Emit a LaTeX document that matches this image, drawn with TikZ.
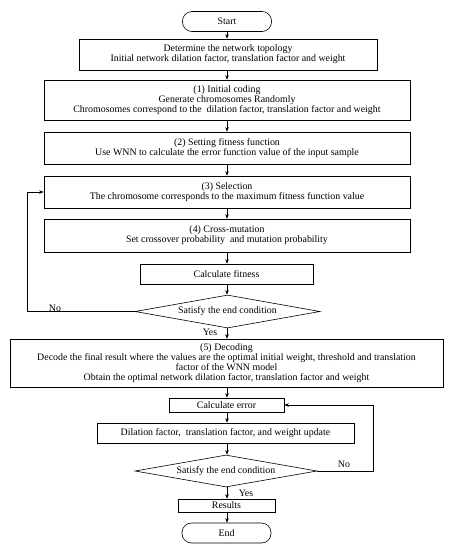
\documentclass[tikz,border=0pt]{standalone}
\usepackage{fontspec}
\setmainfont{Liberation Serif}
\usetikzlibrary{shapes.geometric,arrows.meta}
\begin{document}
\begin{tikzpicture}[x=1pt,y=-1pt,
  every node/.style={font=\fontsize{9.9}{10.2}\selectfont, align=center, inner sep=0pt, line width=0.6pt},
  box/.style={draw, rectangle},
  term/.style={draw, rectangle, rounded corners=9.5pt, minimum width=89pt, minimum height=20pt},
  cond/.style={draw, diamond, shape aspect=5.6},
  arr/.style={-{Stealth[length=4.5pt,width=3.5pt]}, line width=0.6pt},
  lbl/.style={font=\fontsize{9.9}{10.2}\selectfont}]
\useasboundingbox (0,0) rectangle (451,550);
\node[term] (start) at (227,21.5) {Start};
\node[box, minimum width=298pt, minimum height=31pt] (b1) at (228,54.5) {Determine the network topology\\Initial network dilation factor, translation factor and weight};
\node[box, minimum width=366pt, minimum height=40pt] (b2) at (227,100) {(1) Initial coding\\Generate chromosomes Randomly\\Chromosomes correspond to the\ \ dilation factor, translation factor and weight};
\node[box, minimum width=366pt, minimum height=32pt] (b3) at (227,148) {(2) Setting fitness function\\Use WNN to calculate the error function value of the input sample};
\node[box, minimum width=366pt, minimum height=32pt] (b4) at (227,192) {(3) Selection\\The chromosome corresponds to the maximum fitness function value};
\node[box, minimum width=366pt, minimum height=33pt] (b5) at (227,235.5) {(4) Cross-mutation\\Set crossover probability\ \ and mutation probability};
\node[box, minimum width=173pt, minimum height=20pt] (fit) at (226.5,274) {Calculate fitness};
\node[cond, minimum width=185pt, minimum height=33pt] (d1) at (227.5,311.5) {Satisfy the end condition};
\node[box, minimum width=433pt, minimum height=48pt] (dec) at (226.5,363) {(5) Decoding\\Decode the final result where the values are the optimal initial weight, threshold and translation\\factor of the WNN model\\Obtain the optimal network dilation factor, translation factor and weight};
\node[box, minimum width=115pt, minimum height=14pt] (err) at (226.5,405) {Calculate error};
\node[box, minimum width=257pt, minimum height=20pt] (upd) at (225.5,433) {Dilation factor,\ \ translation factor, and weight update};
\node[cond, minimum width=182pt, minimum height=32pt] (d2) at (226,471) {Satisfy the end condition};
\node[box, minimum width=97pt, minimum height=13pt] (res) at (226.5,505.5) {Results};
\node[term] (end) at (226.5,533) {End};
\coordinate (l1) at (27,311.5);
\coordinate (l2) at (27,192);
\coordinate (r1) at (373,471);
\coordinate (r2) at (373,405);
\draw[arr] (start.south) -- (start.south |- b1.north);
\draw[arr] (b1.south -| start.south) -- (start.south |- b2.north);
\draw[arr] (b2.south -| start.south) -- (start.south |- b3.north);
\draw[arr] (b3.south -| start.south) -- (start.south |- b4.north);
\draw[arr] (b4.south -| start.south) -- (start.south |- b5.north);
\draw[arr] (b5.south -| start.south) -- (start.south |- fit.north);
\draw[arr] (fit.south -| start.south) -- (start.south |- d1.north);
\draw[arr] (d1.south -| start.south) -- (start.south |- dec.north);
\draw[arr] (dec.south -| start.south) -- (start.south |- err.north);
\draw[arr] (err.south -| start.south) -- (start.south |- upd.north);
\draw[arr] (upd.south -| start.south) -- (start.south |- d2.north);
\draw[arr] (d2.south -| start.south) -- (start.south |- res.north);
\draw[arr] (res.south -| start.south) -- (start.south |- end.north);
\draw[arr] (d1.west) -- (l1) -- (l2) -- (b4.west);
\draw[arr] (d2.east) -- (r1) -- (r2) -- (err.east);
\node[lbl] (no1) at (55,308) {No};
\node[lbl] (yes1) at (210,332.5) {Yes};
\node[lbl] (no2) at (344,464) {No};
\node[lbl] (yes2) at (246,493) {Yes};
\end{tikzpicture}
\end{document}
